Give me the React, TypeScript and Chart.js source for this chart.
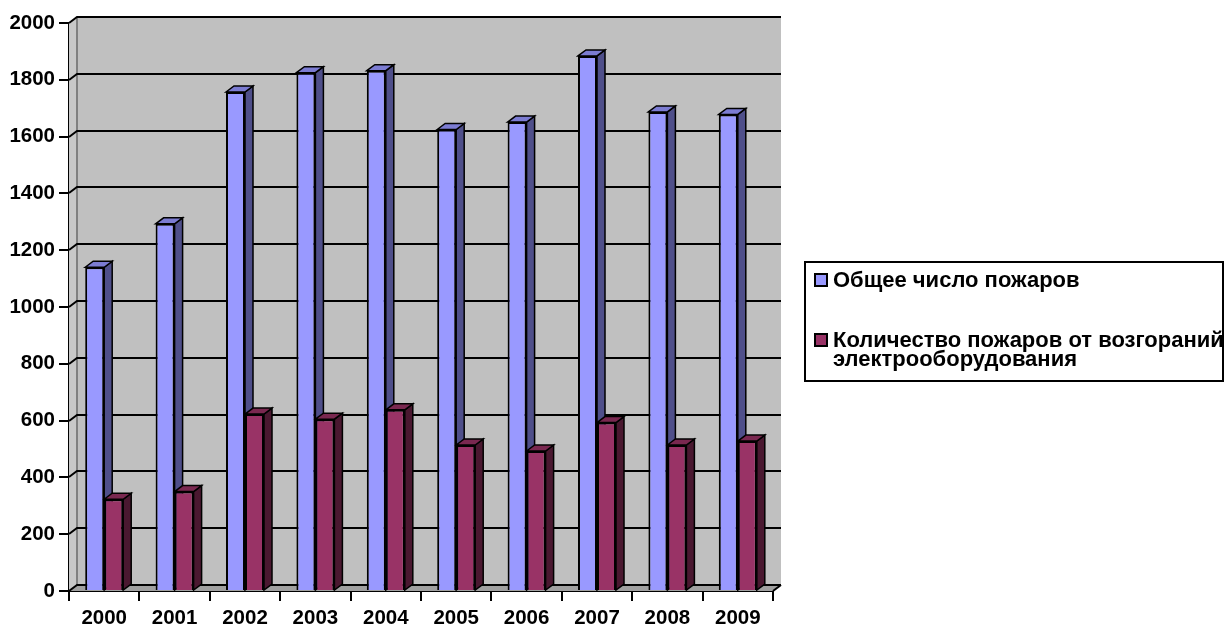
import React, { useEffect, useRef } from 'react';
import { Chart, registerables } from 'chart.js';

Chart.register(...registerables);

// Fire statistics by year
const years = ['2000', '2001', '2002', '2003', '2004', '2005', '2006', '2007', '2008', '2009'];
const totalFires = [1140, 1293, 1757, 1825, 1832, 1625, 1651, 1884, 1687, 1678];
const electricFires = [323, 350, 623, 605, 638, 514, 493, 593, 514, 528];
const seriesNames = ['Общее число пожаров', 'Количество пожаров от возгораний\nэлектрооборудования'];
const yMax = 2000;
const yStep = 200;

const FONT = '"Liberation Sans", Arial, sans-serif';
// Pseudo-3D depth offset of the back plane
const DX = 8;
const DY = -6;

const palettes = [
  { front: '#9999FF', side: '#4F4F8A', top: '#7C7CD2' },
  { front: '#993366', side: '#4A1830', top: '#7A2850' },
];

function poly(ctx: CanvasRenderingContext2D, pts: number[][], fill: string, stroke?: string, lw = 1.5) {
  ctx.beginPath();
  ctx.moveTo(pts[0][0], pts[0][1]);
  for (let i = 1; i < pts.length; i++) ctx.lineTo(pts[i][0], pts[i][1]);
  ctx.closePath();
  ctx.fillStyle = fill;
  ctx.fill();
  if (stroke) {
    ctx.strokeStyle = stroke;
    ctx.lineWidth = lw;
    ctx.lineJoin = 'miter';
    ctx.stroke();
  }
}

const walls3d = {
  id: 'walls3d',
  beforeDatasetsDraw(chart: any) {
    const { ctx, chartArea: a, scales } = chart;
    const ys = scales.y;
    ctx.save();
    // back wall
    ctx.fillStyle = '#C0C0C0';
    ctx.fillRect(a.left + DX, a.top + DY, a.right - a.left, a.bottom - a.top);
    // left side wall
    poly(ctx, [[a.left, a.top], [a.left + DX, a.top + DY], [a.left + DX, a.bottom + DY], [a.left, a.bottom]], '#C8C8C8');
    // floor
    poly(ctx, [[a.left, a.bottom], [a.left + DX, a.bottom + DY], [a.right + DX, a.bottom + DY], [a.right, a.bottom]], '#A0A0A0');
    // wall corner
    ctx.strokeStyle = '#808080';
    ctx.lineWidth = 2;
    ctx.beginPath();
    ctx.moveTo(a.left + DX, a.top + DY);
    ctx.lineTo(a.left + DX, a.bottom + DY);
    ctx.stroke();
    // gridlines across side wall and back wall
    ctx.strokeStyle = '#000';
    ctx.lineWidth = 2;
    for (let v = 0; v <= yMax; v += yStep) {
      const py = Math.round(ys.getPixelForValue(v));
      ctx.beginPath();
      ctx.moveTo(a.left, py);
      ctx.lineTo(a.left + DX, py + DY);
      ctx.lineTo(a.right + DX, py + DY);
      ctx.stroke();
    }
    // right edge of the floor
    ctx.beginPath();
    ctx.moveTo(a.right, a.bottom);
    ctx.lineTo(a.right + DX, a.bottom + DY);
    ctx.stroke();

    // side and top faces of the columns
    chart.data.datasets.forEach((_ds: any, i: number) => {
      const meta = chart.getDatasetMeta(i);
      const pal = palettes[i];
      meta.data.forEach((bar: any) => {
        const { x, y, base, width } = bar.getProps(['x', 'y', 'base', 'width'], true);
        const l = x - width / 2;
        const r = x + width / 2;
        poly(ctx, [[r, y], [r + DX, y + DY], [r + DX, base + DY], [r, base]], pal.side, '#000');
        poly(ctx, [[l, y], [l + DX, y + DY], [r + DX, y + DY], [r, y]], pal.top, '#000');
      });
    });
    ctx.restore();
  },
};

const boxedLegend = {
  id: 'boxedLegend',
  afterDraw(chart: any) {
    const { ctx } = chart;
    ctx.save();
    const bx = 805, by = 262, bw = 418, bh = 119;
    ctx.fillStyle = '#fff';
    ctx.fillRect(bx, by, bw, bh);
    ctx.font = `bold 22px ${FONT}`;
    ctx.textBaseline = 'alphabetic';
    ctx.textAlign = 'left';
    const rows = [287, 347];
    chart.data.datasets.forEach((ds: any, i: number) => {
      const lines = String(ds.label).split('\n');
      const base = rows[i];
      ctx.fillStyle = palettes[i].front;
      ctx.fillRect(815, base - 13, 12, 12);
      ctx.strokeStyle = '#000';
      ctx.lineWidth = 2;
      ctx.strokeRect(815, base - 13, 12, 12);
      ctx.fillStyle = '#000';
      lines.forEach((t: string, k: number) => ctx.fillText(t, 833, base + k * 19));
    });
    ctx.strokeStyle = '#000';
    ctx.lineWidth = 2;
    ctx.strokeRect(bx, by, bw, bh);
    ctx.restore();
  },
};

export default function App() {
  const ref = useRef<HTMLCanvasElement>(null);
  useEffect(() => {
    if (!ref.current) return;
    const tickFont = { family: FONT, size: 20.5, weight: 'bold' as const };
    const chart = new Chart(ref.current, {
      type: 'bar',
      data: {
        labels: years,
        datasets: [
          {
            label: seriesNames[0],
            data: totalFires,
            backgroundColor: palettes[0].front,
            borderColor: '#000',
            borderWidth: 2,
            categoryPercentage: 0.54,
            barPercentage: 1,
          },
          {
            label: seriesNames[1],
            data: electricFires,
            backgroundColor: palettes[1].front,
            borderColor: '#000',
            borderWidth: 2,
            categoryPercentage: 0.54,
            barPercentage: 1,
          },
        ],
      },
      options: {
        responsive: false,
        animation: false,
        layout: { padding: { top: 23, right: 453, left: 0, bottom: 0 } },
        plugins: { legend: { display: false }, tooltip: { enabled: false } },
        scales: {
          x: {
            afterFit: (s: any) => { s.height = 39; },
            grid: { display: true, drawOnChartArea: false, drawTicks: true, tickLength: 10, color: '#000', lineWidth: 2, offset: true },
            border: { display: true, color: '#000', width: 2 },
            ticks: { color: '#000', font: tickFont, padding: 5, maxRotation: 0 },
          },
          y: {
            min: 0,
            max: yMax,
            afterFit: (s: any) => { s.width = 69; },
            grid: { display: true, drawOnChartArea: false, drawTicks: true, tickLength: 10, color: '#000', lineWidth: 2 },
            border: { display: true, color: '#000', width: 2 },
            ticks: { stepSize: yStep, color: '#000', font: tickFont, padding: 4, callback: (v: any) => String(v) },
          },
        },
      },
      plugins: [walls3d, boxedLegend],
    });
    return () => chart.destroy();
  }, []);
  return (
    <div style={{ position: 'fixed', left: 0, top: 0, width: 1226, height: 630, background: '#fff' }}>
      <canvas ref={ref} width={1226} height={630} />
    </div>
  );
}
